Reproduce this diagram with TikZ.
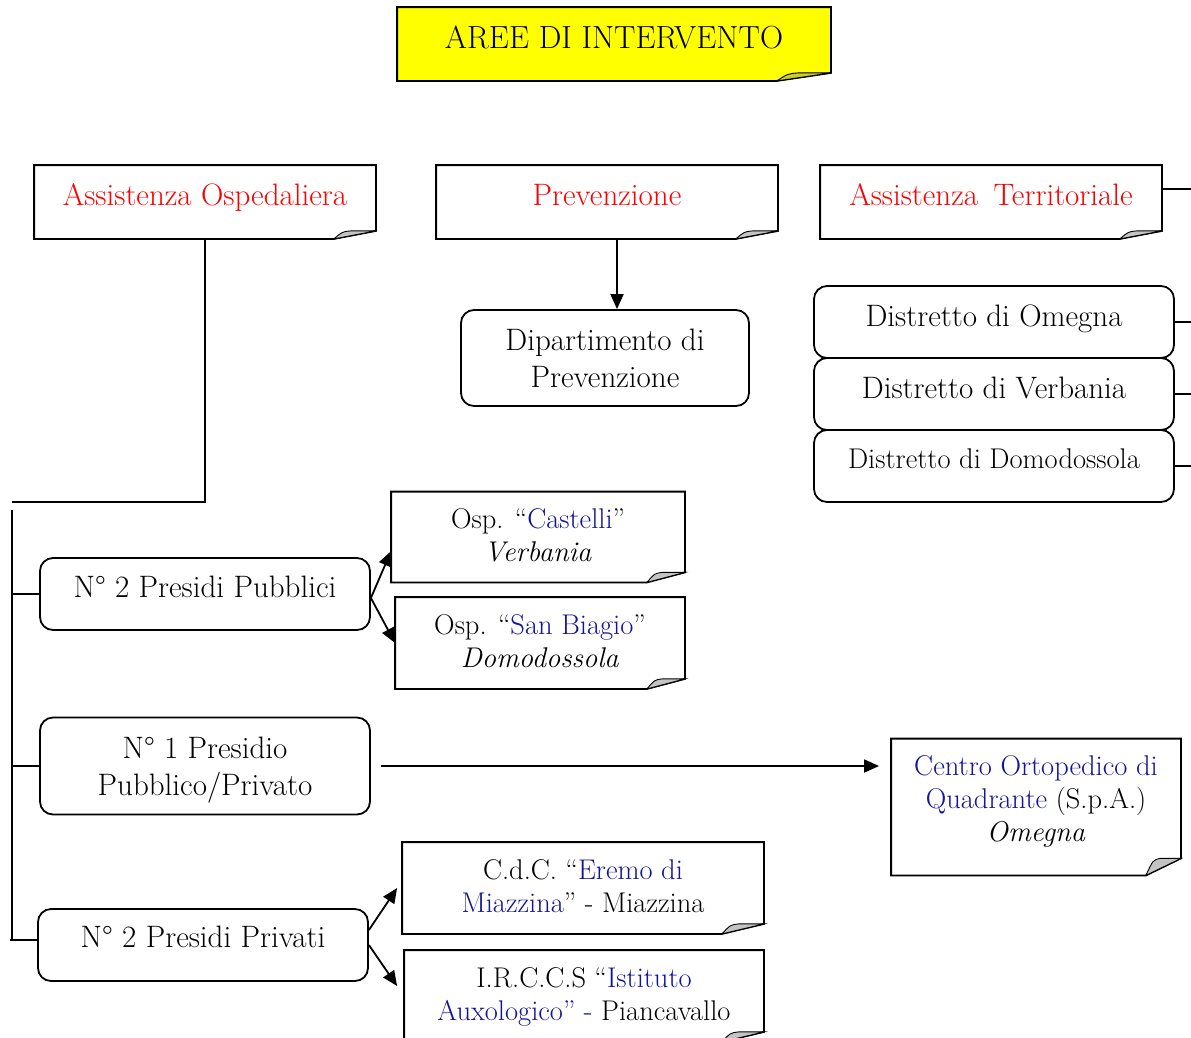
\documentclass[tikz,border=0pt]{standalone}
\usepackage{fontspec}
\usetikzlibrary{arrows.meta,backgrounds,calc}
\definecolor{navy}{RGB}{20,20,150}
\definecolor{tyellow}{RGB}{255,255,0}
\definecolor{foldgray}{RGB}{195,195,195}
\definecolor{foldyellow}{RGB}{205,205,40}
\newcommand\notefold[4]{%
  \begin{scope}[on background layer]
    \path[draw, fill=#2, line width=1.8pt, line join=miter]
      (#1.south west) -- (#1.north west) -- (#1.north east)
      -- ([yshift=#4]#1.south east) -- ([xshift=-#3]#1.south east) -- cycle;
  \end{scope}}
\newcommand\foldcurl[4]{%
  \path[draw, fill=#2, line width=0.9pt]
      ([xshift=-#3]#1.south east)
      .. controls ([xshift=-#3*0.8, yshift=#4*0.9]#1.south east)
      .. ([xshift=-#3*0.6, yshift=#4]#1.south east)
      -- ([yshift=#4]#1.south east) -- cycle;}
\begin{document}
\begin{tikzpicture}[x=1pt,y=-1pt,line width=1.8pt,
  ttl/.style={font=\fontsize{32}{37}\selectfont},
  redf/.style={font=\fontsize{31}{37}\selectfont},
  big/.style={font=\fontsize{31}{37}\selectfont},
  dis/.style={font=\fontsize{31}{37}\selectfont},
  mid/.style={font=\fontsize{28.5}{33}\selectfont},
  notebox/.style={align=center, inner sep=0pt, minimum width=#1},
  rbox/.style={draw, rounded corners=13pt, align=center, inner sep=0pt},
  arr/.style={-{Triangle[length=15pt,width=13pt]}, line width=1.8pt}]
\useasboundingbox (0,0) rectangle (1191,1037);

% title
\node[notebox=432, minimum height=72, ttl, text depth=14pt] (title) at (614,44) {AREE DI INTERVENTO};
\notefold{title}{tyellow}{54}{8}
\foldcurl{title}{foldyellow}{54}{8}

% three areas
\node[notebox=340, minimum height=72, redf, text depth=14pt, text=red] (ao) at (205,202) {Assistenza Ospedaliera};
\node[notebox=340, minimum height=72, redf, text depth=14pt, text=red] (pv) at (607,202) {Prevenzione};
\node[notebox=340, minimum height=72, redf, text depth=14pt, text=red] (at) at (991,202) {Assistenza\hspace{0.5em}Territoriale};
\foreach \n in {ao,pv,at}{\notefold{\n}{white}{42}{8}\foldcurl{\n}{foldgray}{42}{8}}

% prevention
\node[rbox, big, minimum width=288, minimum height=96] (dip) at (605,358) {Dipartimento di\\Prevenzione};

% districts
\node[rbox, dis, minimum width=360, minimum height=72, text depth=12pt] (d1) at (994,322) {Distretto di Omegna};
\node[rbox, dis, minimum width=360, minimum height=72, text depth=12pt] (d2) at (994,394) {Distretto di Verbania};
\node[rbox, mid, minimum width=360, minimum height=72, text depth=14pt] (d3) at (994,466) {Distretto di Domodossola};

% hospital presidia
\node[rbox, big, minimum width=330, minimum height=72, text depth=15pt] (pp) at (205,594) {N° 2 Presidi Pubblici};
\node[rbox, big, minimum width=330, minimum height=97, text depth=0pt] (ppp) at (205,766) {N° 1 Presidio\\Pubblico/Privato};
\node[rbox, big, minimum width=330, minimum height=72, text depth=16pt] (pr) at (203,945) {N° 2 Presidi Privati};

\node[notebox=292, minimum height=89, mid, text depth=3pt] (cas) at (538,537) {Osp. “\textcolor{navy}{Castelli}”\\\textit{Verbania}};
\node[notebox=288, minimum height=90, mid, text depth=3pt] (sb) at (540,643) {Osp. “\textcolor{navy}{San Biagio}”\\\textit{Domodossola}};
\foreach \n in {cas,sb}{\notefold{\n}{white}{38}{10}\foldcurl{\n}{foldgray}{38}{10}}

\node[notebox=288, minimum height=135, mid, text depth=16pt] (co) at (1036,807) {\textcolor{navy}{Centro Ortopedico di}\\\textcolor{navy}{Quadrante} (S.p.A.)\\\textit{Omegna}};
\notefold{co}{white}{35}{17}
\foldcurl{co}{foldgray}{35}{17}

\node[notebox=360, minimum height=90, mid, text depth=4pt] (cdc) at (583,888) {C.d.C. “\textcolor{navy}{Eremo di}\\\textcolor{navy}{Miazzina}” - Miazzina};
\node[notebox=358, minimum height=90, mid, text depth=4pt] (ir) at (584,996) {I.R.C.C.S “\textcolor{navy}{Istituto}\\\textcolor{navy}{Auxologico” -} Piancavallo};
\foreach \n in {cdc,ir}{\notefold{\n}{white}{42}{10}\foldcurl{\n}{foldgray}{42}{10}}

% connectors
\coordinate (re) at (1191,189);
\draw (at.east |- re) -- (re);
\draw (d1.east) -- (d1.east -| re);
\draw (d2.east) -- (d2.east -| re);
\draw (d3.east) -- (d3.east -| re);

\draw[arr] ([xshift=10]pv.south) -- ([xshift=10]pv.south |- dip.north);

\coordinate (hl) at (12,502);
\coordinate (vt) at (12,510);
\coordinate (vb) at (12,940);
\draw (ao.south) |- (hl);
\draw (vt) -- (vb);
\draw (vt |- pp.west) -- (pp.west);
\draw (vt |- ppp.west) -- (ppp.west);
\draw ([xshift=-2]vb) -- (vb -| pr.west);

\draw[arr] ([yshift=-4]pp.east) -- ([yshift=-14]cas.west);
\draw[arr] ([yshift=-4]pp.east) -- ([yshift=0]sb.west);
\draw[arr] ([xshift=10]ppp.east) -- ([xshift=-12]co.west |- ppp.east);
\draw[arr] ([yshift=15]pr.east) -- ([xshift=-5,yshift=0]cdc.west);
\draw[arr] ([yshift=0]pr.east) -- ([xshift=-7,yshift=10]ir.west);
\end{tikzpicture}
\end{document}
